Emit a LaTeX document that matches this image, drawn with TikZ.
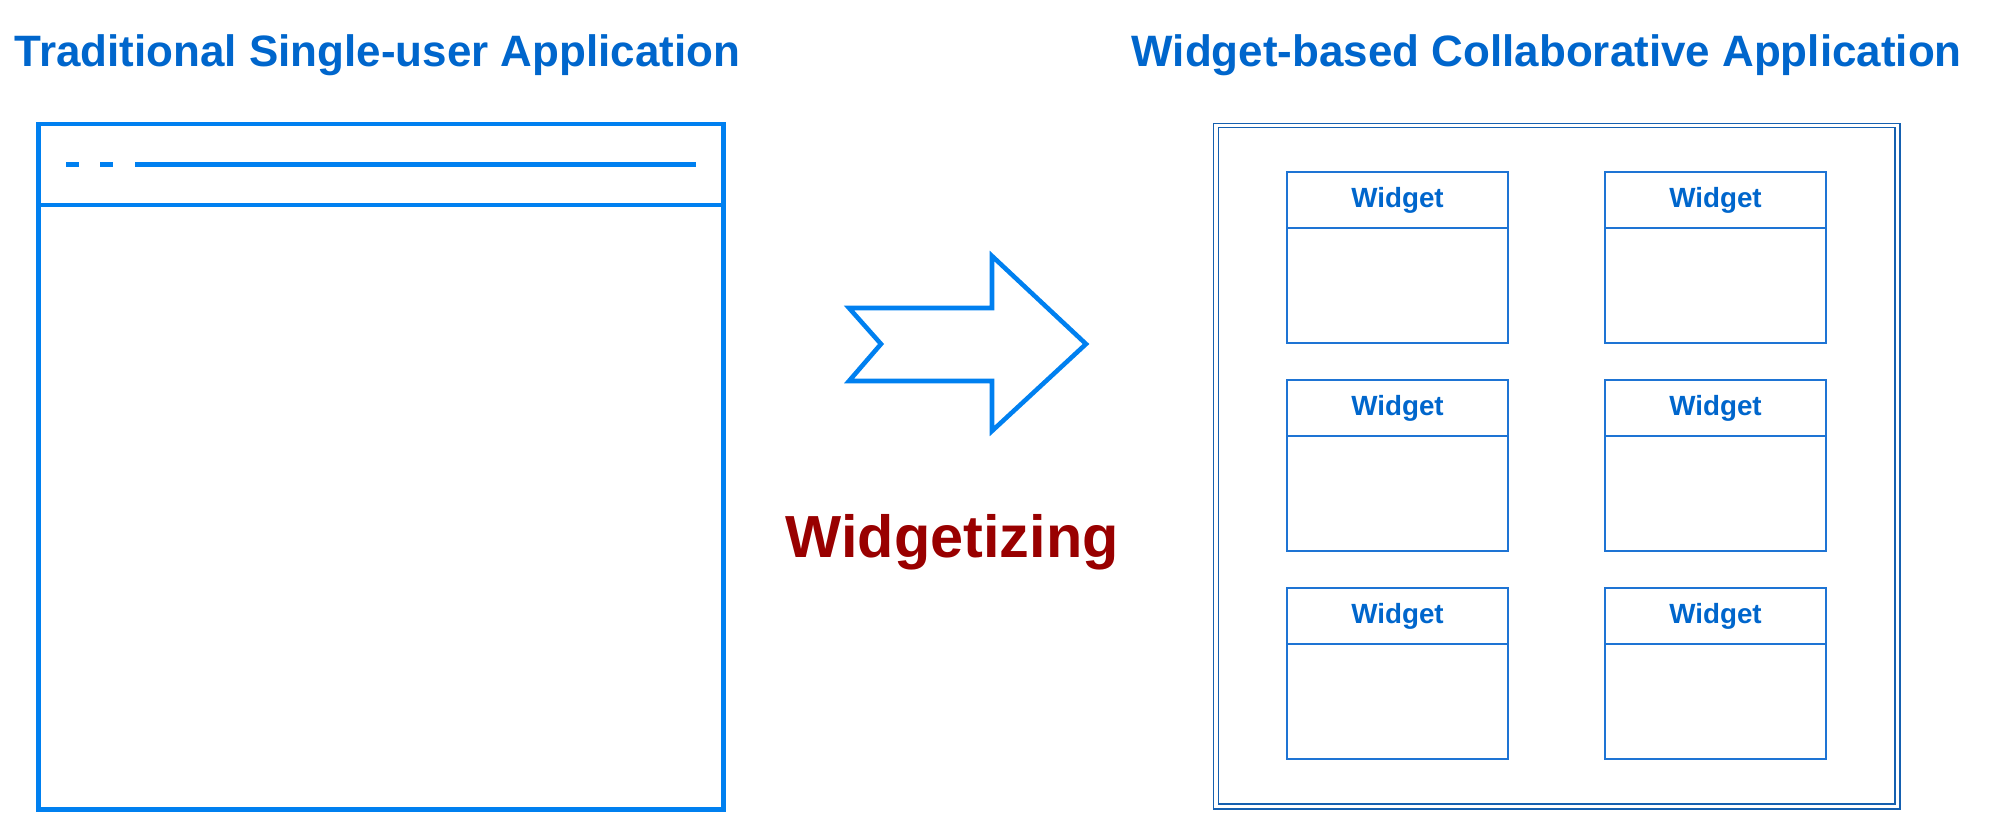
\documentclass[tikz,border=0pt]{standalone}
\usepackage{fontspec}
\setmainfont{Liberation Sans}
\definecolor{appblue}{RGB}{0,128,240}
\definecolor{titleblue}{RGB}{0,102,204}
\definecolor{framedark}{RGB}{21,96,176}
\definecolor{widgetblue}{RGB}{30,116,212}
\definecolor{widgetred}{RGB}{153,0,0}
\begin{document}
\begin{tikzpicture}[x=0.01cm, y=-0.01cm,
        titletext/.style={anchor=base west, inner sep=0pt, text=titleblue, font=\fontsize{12.5}{15}\selectfont\bfseries},
        widgettext/.style={anchor=base, inner sep=0pt, text=titleblue, font=\fontsize{7.9}{9}\selectfont\bfseries},
        widgetline/.style={widgetblue, line width=0.45pt}] %2
            \useasboundingbox (0,0) rectangle (2002,818);

            \node[titletext] (lefttitle) at (14,66) {Traditional Single-user Application};
            \node[titletext] (righttitle) at (1131,66) {Widget-based Collaborative Application};

            % single-user window
            \draw[appblue, line width=1.4pt] (38.5,124) rectangle (723.5,809.5);
            \draw[appblue, line width=1.4pt] (38.5,205) -- (723.5,205);
            \draw[appblue, line width=1.4pt] (66,164.5) -- (79,164.5);
            \draw[appblue, line width=1.4pt] (100,164.5) -- (113,164.5);
            \draw[appblue, line width=1.4pt] (135,164.5) -- (696,164.5);

            % arrow
            \draw[appblue, line width=1.3pt, line join=miter] (849,308) -- (992,308) -- (992,256) -- (1086,344)
                -- (992,431) -- (992,381) -- (849,381) -- (881,344) -- cycle;
            \node[anchor=base west, inner sep=0pt, text=widgetred, font=\fontsize{16.9}{20}\selectfont\bfseries] (widgetizing) at (785,557) {Widgetizing};

            % collaborative frame
            \draw[framedark, line width=0.5pt] (1213.5,123.5) rectangle (1900,809);
            \draw[framedark, line width=0.5pt] (1218.5,127.5) rectangle (1895,804);

            \foreach \col/\cx in {1/1287,2/1605}
              \foreach \row/\ry in {1/172,2/380,3/588} {
                \draw[widgetline] (\cx,\ry) rectangle ++(221,171);
                \draw[widgetline] (\cx,\ry+56) -- ++(221,0);
                \node[widgettext] (widget\col\row) at (\cx+110.5,\ry+35) {Widget};
              }
        \end{tikzpicture}
\end{document}
